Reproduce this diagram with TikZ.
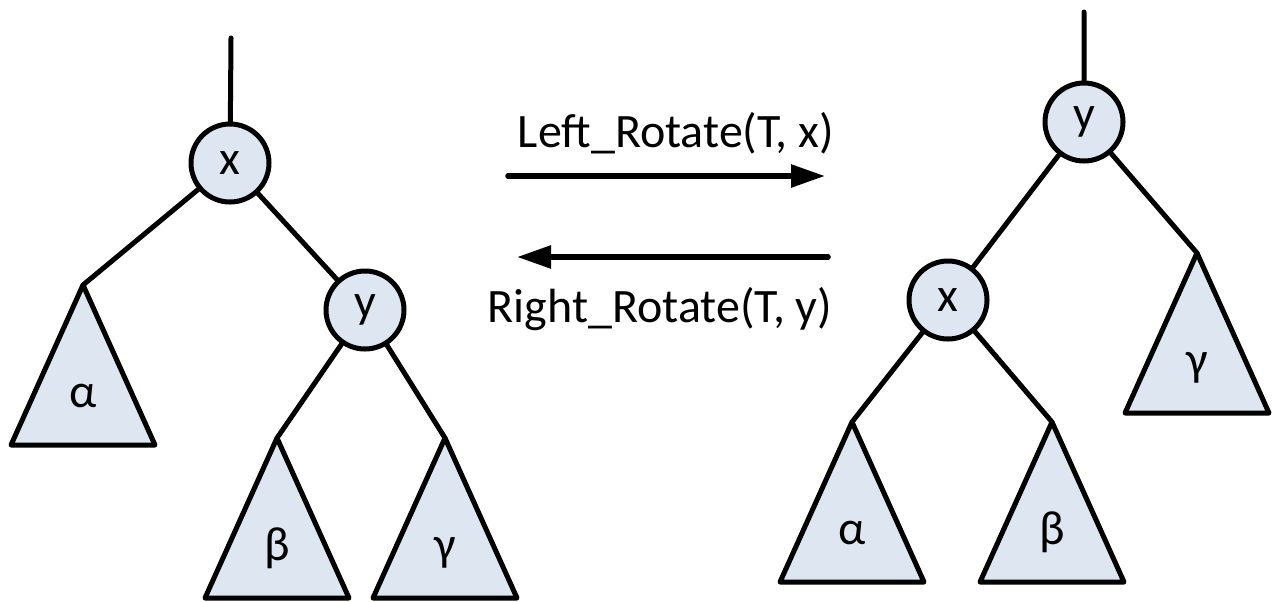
\documentclass[tikz,border=0pt]{standalone}
\usepackage{fontspec}
\setmainfont{Carlito}
\usetikzlibrary{arrows.meta,calc}
\definecolor{treefill}{RGB}{222,230,242}

\begin{document}
\begin{tikzpicture}[x=0.5pt,y=-0.5pt,line cap=round,line join=round,
  every node/.style={font=\fontsize{24}{28}\selectfont},
  key/.style={circle,draw,line width=2.5pt,fill=treefill,minimum size=39pt,inner sep=0pt},
  edge/.style={line width=2.5pt},
  subtree/.style={draw,line width=2.5pt,fill=treefill},
  rot/.style={line width=2.8pt,-{Triangle[length=17pt,width=11pt]}}]
  \useasboundingbox (0,0) rectangle (1272,601);

  % Before rotation
  \coordinate (tl) at (231,38);
  \node[key] (xl) at (230,163) {x};
  \node[key] (yl) at (365,310) {y};
  \coordinate (al) at (83,285);
  \coordinate (bl) at (277,438);
  \coordinate (gl) at (445,438);
  \draw[edge] (tl) -- (xl) (xl) -- (al) (xl) -- (yl) (yl) -- (bl) (yl) -- (gl);

  % After rotation
  \coordinate (tr) at (1084,12);
  \node[key] (yr) at (1084,122) {y};
  \node[key] (xr) at (948,300) {x};
  \coordinate (ar) at (852,422);
  \coordinate (br) at (1052,422);
  \coordinate (gr) at (1197,253);
  \draw[edge] (tr) -- (yr) (yr) -- (xr) (yr) -- (gr) (xr) -- (ar) (xr) -- (br);

  % subtrees
  \foreach \t/\s in {al/α,bl/β,gl/γ,ar/α,br/β,gr/γ}{
    \draw[subtree] (\t) -- ++(-72,160) -- ++(144,0) -- cycle;
    \node[anchor=base] (\t-lab) at ($(\t)+(0,122)$) {\s};
  }

  % the two rotations
  \coordinate (l1) at (508,176);
  \coordinate (l2) at (825,176);
  \coordinate (r1) at (828,257);
  \coordinate (r2) at (517,257);
  \draw[rot] (l1) -- (l2);
  \draw[rot] (r1) -- (r2);
  \node[anchor=base] (lrot) at (676,147) {Left\_Rotate(T, x)};
  \node[anchor=base] (rrot) at (660,322) {Right\_Rotate(T, y)};
\end{tikzpicture}
\end{document}
